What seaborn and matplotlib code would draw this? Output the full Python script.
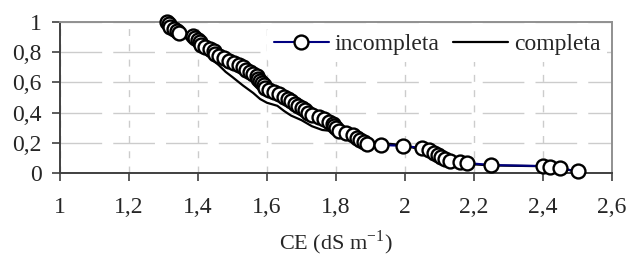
import numpy as np
import pandas as pd
import seaborn as sns
import matplotlib.pyplot as plt

# valores (frequencia acumulada vs CE)
ce_incompleta = [1.31, 1.315, 1.32, 1.33, 1.34, 1.345, 1.385, 1.39, 1.40, 1.405,
                 1.41, 1.42, 1.435, 1.445, 1.45, 1.46, 1.475, 1.49, 1.505, 1.52,
                 1.53, 1.54, 1.55, 1.56, 1.57, 1.575, 1.58, 1.585, 1.59, 1.595,
                 1.605, 1.62, 1.635, 1.65, 1.66, 1.67, 1.68, 1.69, 1.70, 1.71,
                 1.72, 1.73, 1.75, 1.765, 1.78, 1.79, 1.795, 1.80, 1.81, 1.83,
                 1.85, 1.86, 1.87, 1.88, 1.89, 1.93, 1.995, 2.05, 2.07, 2.085,
                 2.095, 2.105, 2.115, 2.13, 2.16, 2.18, 2.25, 2.40, 2.42, 2.45, 2.50]
fr_incompleta = [1.00, 0.985, 0.97, 0.955, 0.94, 0.925, 0.91, 0.895, 0.88, 0.865,
                 0.85, 0.835, 0.82, 0.805, 0.79, 0.775, 0.76, 0.745, 0.73, 0.715,
                 0.70, 0.685, 0.67, 0.655, 0.64, 0.625, 0.61, 0.595, 0.58, 0.565,
                 0.55, 0.535, 0.52, 0.505, 0.49, 0.475, 0.46, 0.445, 0.43, 0.415,
                 0.40, 0.385, 0.37, 0.355, 0.34, 0.325, 0.31, 0.295, 0.28, 0.265,
                 0.25, 0.235, 0.22, 0.205, 0.19, 0.185, 0.18, 0.165, 0.15, 0.135,
                 0.12, 0.105, 0.09, 0.08, 0.07, 0.066, 0.053, 0.046, 0.04, 0.033, 0.01]

ce_completa = [1.31, 1.33, 1.36, 1.40, 1.43, 1.46, 1.48, 1.50, 1.53, 1.56,
               1.58, 1.60, 1.63, 1.65, 1.67, 1.70, 1.73, 1.76, 1.80, 1.84,
               1.88, 1.92, 1.97, 2.02, 2.07, 2.10, 2.13, 2.18, 2.25, 2.40,
               2.45, 2.50]
fr_completa = [1.00, 0.95, 0.90, 0.83, 0.77, 0.715, 0.67, 0.635, 0.58, 0.53,
               0.49, 0.465, 0.445, 0.41, 0.38, 0.35, 0.31, 0.285, 0.275, 0.25,
               0.22, 0.20, 0.19, 0.17, 0.14, 0.11, 0.08, 0.06, 0.05, 0.045,
               0.03, 0.01]

xticks = [1, 1.2, 1.4, 1.6, 1.8, 2, 2.2, 2.4, 2.6]
xticklabels = ['1', '1,2', '1,4', '1,6', '1,8', '2', '2,2', '2,4', '2,6']
yticks = [0, 0.2, 0.4, 0.6, 0.8, 1]
yticklabels = ['0', '0,2', '0,4', '0,6', '0,8', '1']

df_inc = pd.DataFrame({'CE': ce_incompleta, 'F': fr_incompleta})
df_comp = pd.DataFrame({'CE': ce_completa, 'F': fr_completa})

sns.set_style('white')
plt.rcParams['font.family'] = ['Liberation Serif', 'DejaVu Serif']
plt.rcParams['mathtext.fontset'] = 'custom'
plt.rcParams['mathtext.rm'] = 'Liberation Serif'

fig = plt.figure(figsize=(6.29, 2.6), dpi=100)
ax = fig.add_axes([60 / 629, 1 - 173 / 260, 552 / 629, 151 / 260])

sns.lineplot(data=df_comp, x='CE', y='F', ax=ax, sort=False, estimator=None,
             color='black', linewidth=1.6, label='completa', zorder=2)
sns.lineplot(data=df_inc, x='CE', y='F', ax=ax, sort=False, estimator=None,
             color='#000080', linewidth=1.5, marker='o', markersize=10,
             markerfacecolor='white', markeredgecolor='black', markeredgewidth=1.7,
             label='incompleta', zorder=3, clip_on=False)

ax.set_xlim(1, 2.6)
ax.set_ylim(0, 1)
ax.set_xticks(xticks)
ax.set_xticklabels(xticklabels)
ax.set_yticks(yticks)
ax.set_yticklabels(yticklabels)
ax.tick_params(axis='both', labelsize=17, direction='out', length=6, width=1.2,
               color='#404040', bottom=True, left=True)
ax.tick_params(axis='x', pad=11)
ax.tick_params(axis='y', pad=7)

ax.xaxis.grid(True, color='#cccccc', linewidth=1, linestyle=(0, (5, 6)))
ax.yaxis.grid(True, color='#cccccc', linewidth=1, linestyle=(0, (30, 8)))
ax.set_axisbelow(True)

for s in ['left', 'bottom']:
    ax.spines[s].set_color('#404040')
    ax.spines[s].set_linewidth(1.4)
for s in ['top', 'right']:
    ax.spines[s].set_color('#909090')
    ax.spines[s].set_linewidth(1.4)

ax.set_xlabel('CE (dS m$^{-1}$)', fontsize=16, labelpad=8)
ax.set_ylabel('')

handles, labels = ax.get_legend_handles_labels()
leg = ax.legend(handles[::-1], labels[::-1], loc='upper right', ncol=2, fontsize=17,
                frameon=True, facecolor='white', edgecolor='none', framealpha=1,
                handlelength=2.3, columnspacing=0.6, handletextpad=0.25,
                borderaxespad=0.2, borderpad=0.3)
leg.set_zorder(5)

plt.savefig('out.png', dpi=100)
